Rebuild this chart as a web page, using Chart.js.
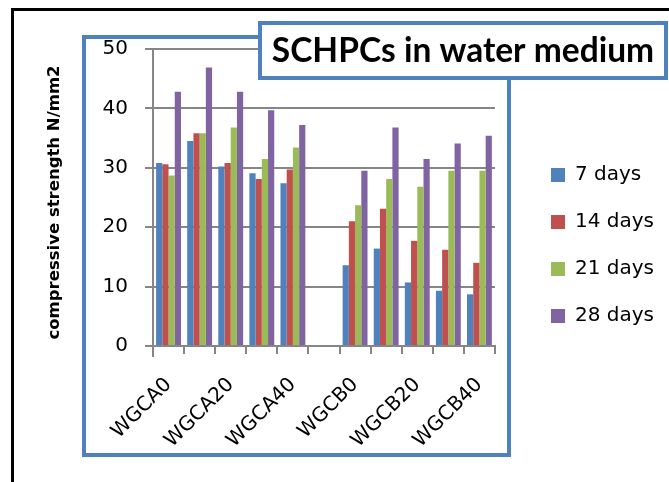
<!DOCTYPE html>
<html>
<head>
<meta charset="utf-8">
<script src="https://cdn.jsdelivr.net/npm/chart.js@4.4.1/dist/chart.umd.min.js"></script>
<style>
html,body{margin:0;padding:0;background:#fff;}
#wrap{width:669px;height:482px;position:relative;}
canvas{display:block;}
</style>
</head>
<body>
<div id="wrap"><canvas id="c" width="669" height="482"></canvas></div>
<script>
// ---- data ----
const categories = ['WGCA0','WGCA10','WGCA20','WGCA30','WGCA40','','WGCB0','WGCB10','WGCB20','WGCB30','WGCB40'];
const days7  = [30.8, 34.5, 30.2, 29.1, 27.4, null, 13.6, 16.4, 10.7, 9.3, 8.7];
const days14 = [30.6, 35.8, 30.8, 28.1, 29.7, null, 21.0, 23.1, 17.7, 16.2, 14.0];
const days21 = [28.7, 35.8, 36.8, 31.5, 33.4, null, 23.7, 28.1, 26.8, 29.5, 29.5];
const days28 = [42.8, 46.9, 42.8, 39.7, 37.2, null, 29.5, 36.8, 31.5, 34.1, 35.4];
const seriesNames = ['7 days','14 days','21 days','28 days'];
const yTicks = [0, 10, 20, 30, 40, 50];
const chartTitle = 'SCHPCs in water medium';
const yTitle = 'compressive strength N/mm2';

const FONT = '"DejaVu Sans", sans-serif';
const TITLE_FONT = 'Lato, sans-serif';
const BLUE_FRAME = '#4f81bd';
const GRID = '#868686';

const framePlugin = {
  id: 'frames',
  beforeDraw(chart) {
    const ctx = chart.ctx;
    ctx.save();
    ctx.fillStyle = '#fff';
    ctx.fillRect(0, 0, chart.width, chart.height);
    // outer black frame
    ctx.strokeStyle = '#000';
    ctx.lineWidth = 3;
    ctx.strokeRect(12.5, 9.5, 700, 500);
    // blue plot frame
    ctx.strokeStyle = BLUE_FRAME;
    ctx.lineWidth = 4;
    ctx.strokeRect(84, 37, 425, 418);
    ctx.restore();
  },
  afterLayout(chart) {
    const t = chart.titleBlock;
    if (t) {
      t.top += 22; t.bottom += 22;
      t.left = 262; t.right = 664;
    }
    const l = chart.legend;
    if (l) {
      const shift = 551 - (l.left + l.options.labels.padding);
      l.left += shift; l.right += shift;
    }
    const y = chart.scales.y;
    if (y) { y.bottom += 10; }
  },
  afterDraw(chart) {
    const ctx = chart.ctx;
    ctx.save();
    ctx.fillStyle = '#fff';
    ctx.fillRect(260, 23, 406, 55);
    ctx.strokeStyle = BLUE_FRAME;
    ctx.lineWidth = 4;
    ctx.strokeRect(260, 23, 406, 55);
    ctx.restore();
    if (chart.titleBlock) chart.titleBlock.draw();
  }
};

const colors = ['#4f81bd', '#c0504d', '#9bbb59', '#8064a2'];
const allSeries = [days7, days14, days21, days28];

new Chart(document.getElementById('c'), {
  type: 'bar',
  data: {
    labels: categories,
    datasets: allSeries.map((d, i) => ({
      label: seriesNames[i],
      data: d,
      backgroundColor: colors[i],
      borderWidth: 0,
      categoryPercentage: 0.8,
      barPercentage: 1.0
    }))
  },
  options: {
    responsive: false,
    animation: false,
    devicePixelRatio: 1,
    layout: { padding: { top: 8.8, left: 0, right: 34, bottom: 0 } },
    plugins: {
      title: {
        display: true,
        text: chartTitle,
        color: '#000',
        font: { family: TITLE_FONT, size: 33.5, weight: 'bold' },
        padding: 0
      },
      legend: {
        display: true,
        position: 'right',
        labels: {
          color: '#000',
          font: { family: FONT, size: 20 },
          boxWidth: 14,
          boxHeight: 14,
          padding: 27
        }
      },
      tooltip: { enabled: false }
    },
    scales: {
      x: {
        grid: { display: true, drawOnChartArea: false, drawTicks: true, tickLength: 8, color: GRID, lineWidth: 2, offset: true },
        border: { display: true, color: GRID, width: 2 },
        ticks: {
          autoSkip: false,
          minRotation: 45,
          maxRotation: 45,
          color: '#000',
          padding: 19,
          font: { family: FONT, size: 20 },
          callback: function (v, i) { return i % 2 === 0 ? categories[i] : ''; }
        },
        afterFit(scale) { scale.height = 136; }
      },
      y: {
        min: 0,
        max: 50,
        afterBuildTicks(scale) { scale.ticks = yTicks.map(v => ({ value: v })); },
        grid: { color: GRID, lineWidth: 2, tickLength: 8, drawTicks: true },
        border: { display: true, color: GRID, width: 2 },
        ticks: {
          color: '#000',
          padding: 17,
          font: { family: FONT, size: 20 }
        },
        title: {
          display: true,
          text: yTitle,
          color: '#000',
          font: { family: FONT, size: 16.5, weight: 'bold' },
          padding: { top: 45, bottom: 0 }
        },
        afterFit(scale) { scale.width = 153; }
      }
    }
  },
  plugins: [framePlugin]
});
</script>
</body>
</html>
